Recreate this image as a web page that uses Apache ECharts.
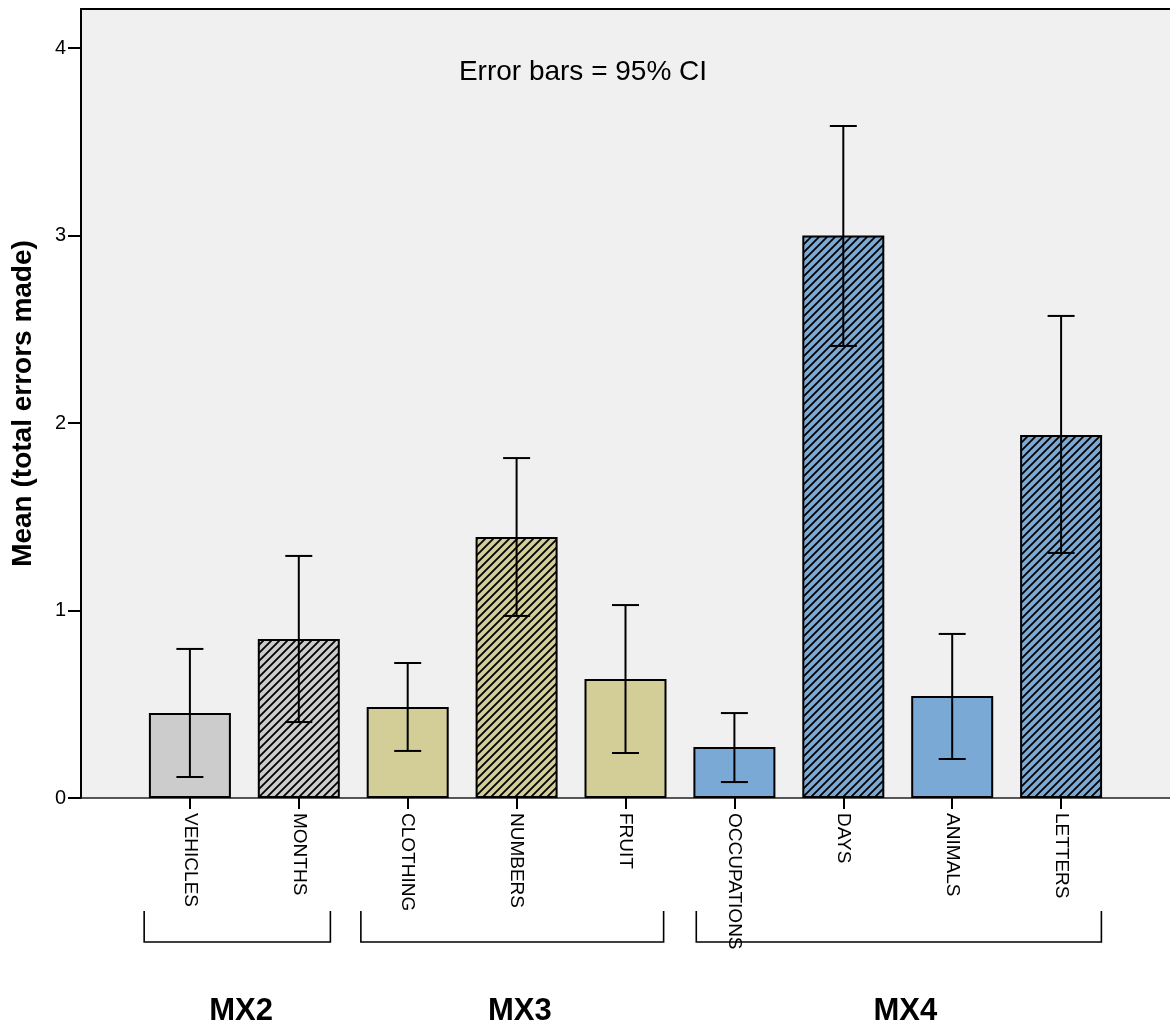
<!DOCTYPE html>
<html><head><meta charset="utf-8">
<script src="https://cdn.jsdelivr.net/npm/echarts@6/dist/echarts.min.js"></script>
<style>html,body{margin:0;padding:0;background:#fff}#c{width:1170px;height:1029px}</style>
</head><body><div id="c"></div>
<script>
// ---- data ----
const categories = ['VEHICLES','MONTHS','CLOTHING','NUMBERS','FRUIT','OCCUPATIONS','DAYS','ANIMALS','LETTERS'];
const means  = [0.453, 0.848, 0.485, 1.392, 0.635, 0.272, 3.000, 0.544, 1.936];
const ciLow  = [0.112, 0.405, 0.251, 0.971, 0.240, 0.085, 2.411, 0.208, 1.307];
const ciHigh = [0.795, 1.291, 0.720, 1.813, 1.029, 0.453, 3.584, 0.875, 2.571];
const groupOf = ['MX2','MX2','MX3','MX3','MX3','MX4','MX4','MX4','MX4'];
const hatched = [false, true, false, true, false, false, true, false, true];
const groups = ['MX2','MX3','MX4'];
const yTickValues = [0, 1, 2, 3, 4];
const noteText = 'Error bars = 95% CI';
const yAxisTitle = 'Mean (total errors made)';

// ---- styles / layout ----
const groupColor = {MX2:'#cccccc', MX3:'#d3ce97', MX4:'#7aa9d6'};
const groupSpanLayout = {MX2:[0.58,2.29], MX3:[2.57,5.35], MX4:[5.65,9.37]};
const groupLabelLayout = {MX2:1.47, MX3:4.03, MX4:7.57};
const FONT = 'Liberation Sans, Arial, sans-serif';

function hatch(base){
  const s = 8, c = document.createElement('canvas');
  c.width = s; c.height = s;
  const g = c.getContext('2d');
  g.fillStyle = base; g.fillRect(0,0,s,s);
  g.strokeStyle = '#000'; g.lineWidth = 1.8;
  g.beginPath();
  g.moveTo(-2, s+2); g.lineTo(s+2, -2);
  g.moveTo(-2, 2); g.lineTo(2, -2);
  g.moveTo(s-2, s+2); g.lineTo(s+2, s-2);
  g.stroke();
  return c;
}

const xData = [' '].concat(categories, ['  ']);
const barData = xData.map((_, i) => {
  if (i === 0 || i === xData.length - 1) return '-';
  const k = i - 1, base = groupColor[groupOf[k]];
  return {
    value: means[k],
    itemStyle: { color: hatched[k] ? {image: hatch(base), repeat: 'repeat'} : base }
  };
});
const errData = categories.map((c, k) => [k + 1, ciLow[k], ciHigh[k]]);

const chart = echarts.init(document.getElementById('c'), null, {renderer:'canvas'});
chart.setOption({
  animation: false,
  grid: {left: 81, right: 0, top: 9, bottom: 231, show: true, backgroundColor: '#f0f0f0', borderWidth: 0,
         containLabel: false, outerBoundsMode: 'none'},
  xAxis: [{
    type: 'category', data: xData, boundaryGap: false, position: 'bottom',
    axisLine: {lineStyle: {color: '#222', width: 1.5}},
    axisTick: {length: 11, lineStyle: {color: '#000', width: 2}, interval: (i) => i > 0 && i < xData.length - 1},
    axisLabel: {rotate: -90, interval: 0, fontSize: 19, color: '#000', fontFamily: FONT, margin: 15},
    splitLine: {show: false}
  }, {
    type: 'category', data: xData, boundaryGap: false, position: 'top',
    axisLine: {lineStyle: {color: '#000', width: 2}},
    axisTick: {show: false}, axisLabel: {show: false}
  }],
  yAxis: {
    type: 'value', min: 0, max: 4.208, interval: 1,
    name: yAxisTitle, nameLocation: 'middle', nameGap: 44,
    nameTextStyle: {fontSize: 28, fontWeight: 'bold', color: '#000', fontFamily: FONT},
    axisLine: {show: true, lineStyle: {color: '#000', width: 2}},
    axisTick: {show: true, length: 13, lineStyle: {color: '#000', width: 2}, customValues: yTickValues},
    axisLabel: {fontSize: 20, color: '#000', fontFamily: FONT, margin: 15, customValues: yTickValues},
    splitLine: {show: false}
  },
  series: [{
    type: 'bar', data: barData, barWidth: 82,
    itemStyle: {borderColor: '#000', borderWidth: 2}
  }, {
    type: 'custom', data: errData, encode: {x: 0, y: [1, 2]}, z: 5,
    renderItem: (params, api) => {
      const x = api.value(0);
      const lo = api.coord([x, api.value(1)]);
      const hi = api.coord([x, api.value(2)]);
      const w = 13.5, st = {stroke: '#000', lineWidth: 2};
      return {type: 'group', children: [
        {type: 'line', shape: {x1: lo[0], y1: lo[1], x2: hi[0], y2: hi[1]}, style: st},
        {type: 'line', shape: {x1: lo[0]-w, y1: lo[1], x2: lo[0]+w, y2: lo[1]}, style: st},
        {type: 'line', shape: {x1: hi[0]-w, y1: hi[1], x2: hi[0]+w, y2: hi[1]}, style: st}
      ]};
    }
  }]
});

// annotations: note text, group brackets and labels
const p0 = chart.convertToPixel({xAxisIndex: 0}, 0);
const p1 = chart.convertToPixel({xAxisIndex: 0}, 1);
const step = p1 - p0;
const px = (u) => p0 + u * step;
const gfx = [{
  type: 'text', x: 583, y: 72,
  style: {text: noteText, fontSize: 28, fontFamily: FONT, fill: '#000', textAlign: 'center', textVerticalAlign: 'middle'}
}];
groups.forEach((g) => {
  const [a, b] = groupSpanLayout[g];
  gfx.push({type: 'polyline', shape: {points: [[px(a), 911], [px(a), 942], [px(b), 942], [px(b), 911]]},
    style: {stroke: '#000', lineWidth: 1.6, fill: null}});
  gfx.push({type: 'text', x: px(groupLabelLayout[g]), y: 1011,
    style: {text: g, fontSize: 31, fontWeight: 'bold', fontFamily: FONT, fill: '#000', textAlign: 'center', textVerticalAlign: 'middle'}});
});
chart.setOption({graphic: gfx});
</script></body></html>
